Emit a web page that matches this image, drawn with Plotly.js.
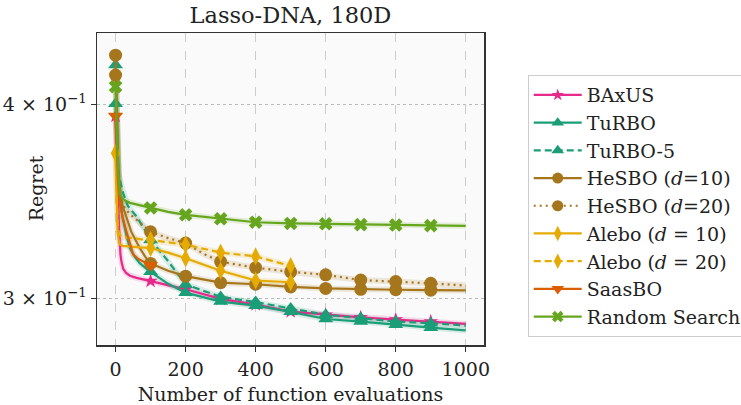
<!DOCTYPE html>
<html>
<head>
<meta charset="utf-8">
<script src="https://cdn.plot.ly/plotly-3.0.1.min.js"></script>
<style>html,body{margin:0;padding:0;background:#fff;}#chart{width:741px;height:405px;}</style>
</head>
<body>
<div id="chart"></div>
<script>
// ---- data ----
const X_TICKS = [0, 200, 400, 600, 800, 1000];
const Y_TICKS = [0.3, 0.4];
const Y_TICK_LABELS = ['3 × 10<sup>−1</sup>', '4 × 10<sup>−1</sup>'];

const baxusX = [0, 3, 5, 7, 10, 14, 17, 22, 30, 41, 60, 100, 150, 200, 300, 400, 500, 600, 700, 800, 900, 1000];
const baxusY = [0.3931, 0.370, 0.356, 0.345, 0.333, 0.320, 0.3165, 0.3133, 0.3115, 0.3102, 0.3092, 0.3077, 0.3060, 0.3040, 0.2997, 0.2972, 0.2941, 0.2927, 0.2916, 0.2906, 0.2898, 0.2888];

const turboX = [0, 4, 8, 12, 20, 30, 41, 55, 69, 85, 100, 150, 200, 300, 400, 500, 600, 700, 800, 900, 1000];
const turboY = [0.424, 0.385, 0.362, 0.350, 0.338, 0.330, 0.3232, 0.319, 0.3160, 0.3138, 0.3120, 0.3065, 0.3025, 0.2985, 0.2967, 0.2940, 0.2909, 0.2898, 0.2884, 0.2872, 0.2860];

const turbo5X = [0, 4, 8, 14, 22, 35, 48, 60, 80, 100, 126, 150, 200, 300, 400, 500, 600, 700, 800, 900, 1000];
const turbo5Y = [0.4003, 0.378, 0.362, 0.356, 0.3505, 0.344, 0.341, 0.3386, 0.333, 0.3271, 0.3218, 0.3170, 0.3062, 0.3006, 0.2983, 0.2955, 0.2927, 0.2913, 0.2898, 0.2891, 0.2881];

const hesbo10X = [0, 4, 8, 14, 20, 27, 45, 69, 85, 100, 150, 200, 300, 400, 500, 600, 700, 800, 900, 1000];
const hesbo10Y = [0.4302, 0.385, 0.362, 0.350, 0.344, 0.3405, 0.331, 0.3232, 0.3190, 0.3159, 0.3125, 0.3100, 0.3070, 0.3063, 0.3051, 0.3044, 0.3040, 0.3038, 0.3036, 0.3035];

const hesbo20X = [0, 4, 8, 14, 22, 40, 60, 80, 100, 150, 200, 250, 300, 400, 500, 600, 700, 800, 900, 1000];
const hesbo20Y = [0.4177, 0.380, 0.360, 0.350, 0.3440, 0.3400, 0.3368, 0.3340, 0.3311, 0.3280, 0.3256, 0.3205, 0.3167, 0.3139, 0.3120, 0.3106, 0.3082, 0.3075, 0.3067, 0.3057];

const alebo10X = [0, 2, 4, 6, 9, 12, 20, 40, 70, 100, 150, 200, 300, 400, 500];
const alebo10Y = [0.372, 0.352, 0.338, 0.331, 0.327, 0.3250, 0.3242, 0.3238, 0.3235, 0.3232, 0.3210, 0.3183, 0.3125, 0.3080, 0.3072];

const alebo20X = [0, 2, 4, 6, 9, 12, 20, 40, 70, 100, 150, 200, 300, 400, 500];
const alebo20Y = [0.372, 0.355, 0.342, 0.335, 0.331, 0.3295, 0.3285, 0.3280, 0.3275, 0.3271, 0.3258, 0.3248, 0.3210, 0.3192, 0.3147];

const saasX = [0, 3, 7, 12, 18, 27, 38, 50, 65, 80, 95, 100];
const saasY = [0.3931, 0.370, 0.3558, 0.346, 0.340, 0.3337, 0.3265, 0.3202, 0.3180, 0.3168, 0.3156, 0.3150];

const randX = [0, 3, 6, 9, 12, 20, 30, 41, 60, 80, 100, 150, 200, 300, 400, 500, 600, 700, 800, 900, 1000];
const randY = [0.4106, 0.385, 0.368, 0.357, 0.3500, 0.3478, 0.3465, 0.3456, 0.3448, 0.3438, 0.3430, 0.3410, 0.3395, 0.3375, 0.3358, 0.3352, 0.3350, 0.3346, 0.3344, 0.3341, 0.3340];

const SERIES = [
  {name: 'BAxUS', x: baxusX, y: baxusY, color: '#e7298a', dash: 'solid', symbol: 'star', size: 11},
  {name: 'TuRBO', x: turboX, y: turboY, color: '#1b9e77', dash: 'solid', symbol: 'triangle-up', size: 13},
  {name: 'TuRBO-5', x: turbo5X, y: turbo5Y, color: '#1b9e77', dash: '7px,4px', symbol: 'triangle-up', size: 13},
  {name: 'HeSBO (<i>d</i>=10)', x: hesbo10X, y: hesbo10Y, color: '#a6761d', dash: 'solid', symbol: 'circle', size: 13},
  {name: 'HeSBO (<i>d</i>=20)', x: hesbo20X, y: hesbo20Y, color: '#a6761d', dash: '2px,4px', symbol: 'circle', size: 13},
  {name: 'Alebo (<i>d</i> = 10)', x: alebo10X, y: alebo10Y, color: '#e6ab02', dash: 'solid', symbol: 'diamond-tall', size: 13},
  {name: 'Alebo (<i>d</i> = 20)', x: alebo20X, y: alebo20Y, color: '#e6ab02', dash: '7px,4px', symbol: 'diamond-tall', size: 13},
  {name: 'SaasBO', x: saasX, y: saasY, color: '#d95f02', dash: 'solid', symbol: 'triangle-down', size: 13},
  {name: 'Random Search', x: randX, y: randY, color: '#66a61e', dash: 'solid', symbol: 'x', size: 12}
];

const traces = [];
// light halo bands
SERIES.forEach(s => {
  traces.push({x: s.x, y: s.y, type: 'scatter', mode: 'lines', showlegend: false, hoverinfo: 'skip',
    line: {color: s.color, width: 6}, opacity: 0.15});
});
// lines and markers
SERIES.forEach(s => {
  traces.push({x: s.x, y: s.y, type: 'scatter', mode: 'lines', showlegend: false,
    line: {color: s.color, width: 2.2, dash: s.dash}});
  const mx = [], my = [];
  s.x.forEach((v, i) => { if (v % 100 === 0 && v < 1000) { mx.push(v); my.push(s.y[i]); } });
  traces.push({x: mx, y: my, type: 'scatter', mode: 'markers', showlegend: false,
    marker: {color: s.color, symbol: s.symbol, size: s.size, line: {width: 0}}});
});
// legend entries
SERIES.forEach(s => {
  traces.push({x: [null], y: [null], type: 'scatter', mode: 'lines+markers', name: s.name,
    line: {color: s.color, width: 2.2, dash: s.dash},
    marker: {color: s.color, symbol: s.symbol, size: s.size * 0.85}});
});

const FONT = 'DejaVu Serif, serif';
const layout = {
  width: 741, height: 405,
  margin: {l: 97, r: 257, t: 33, b: 60, autoexpand: false},
  paper_bgcolor: '#ffffff',
  plot_bgcolor: '#fafafa',
  font: {family: FONT, size: 19, color: '#222'},
  title: {text: 'Lasso-DNA, 180D', font: {family: FONT, size: 22.5, color: '#222'},
    x: 0.392, xanchor: 'center', y: 0.962, yanchor: 'middle', yref: 'container'},
  xaxis: {
    range: [-53, 1052], tickvals: X_TICKS, ticktext: X_TICKS.map(String),
    showline: true, linecolor: '#333', linewidth: 1.5, mirror: true,
    ticks: 'outside', ticklen: 5, tickwidth: 1.3, tickcolor: '#333', ticklabelstandoff: 2,
    showgrid: true, gridcolor: '#cccccc', gridwidth: 1, griddash: 'dash',
    zeroline: false, tickfont: {family: FONT, size: 19, color: '#222'},
    title: {text: 'Number of function evaluations', font: {family: FONT, size: 19, color: '#222'}, standoff: 8}
  },
  yaxis: {
    type: 'log', range: [Math.log10(0.2799), Math.log10(0.4446)],
    tickvals: Y_TICKS, ticktext: Y_TICK_LABELS,
    showline: true, linecolor: '#333', linewidth: 1.5, mirror: true,
    ticks: 'outside', ticklen: 5, tickwidth: 1.3, tickcolor: '#333',
    showgrid: true, gridcolor: '#bbbbbb', gridwidth: 1, griddash: 'dot',
    zeroline: false, tickfont: {family: FONT, size: 19, color: '#222'}
  },
  annotations: [{
    text: 'Regret', xref: 'paper', yref: 'paper', x: -0.158, y: 0.5016,
    xanchor: 'center', yanchor: 'middle', textangle: -90, showarrow: false,
    font: {family: FONT, size: 19, color: '#222'}
  }],
  legend: {
    x: 1.113, xanchor: 'left', y: 0.865, yanchor: 'top',
    bgcolor: '#ffffff', bordercolor: '#cccccc', borderwidth: 1, itemwidth: 48,
    font: {family: FONT, size: 19, color: '#222'}
  },
  showlegend: true
};

Plotly.newPlot('chart', traces, layout, {displayModeBar: false, staticPlot: true});
</script>
</body>
</html>
